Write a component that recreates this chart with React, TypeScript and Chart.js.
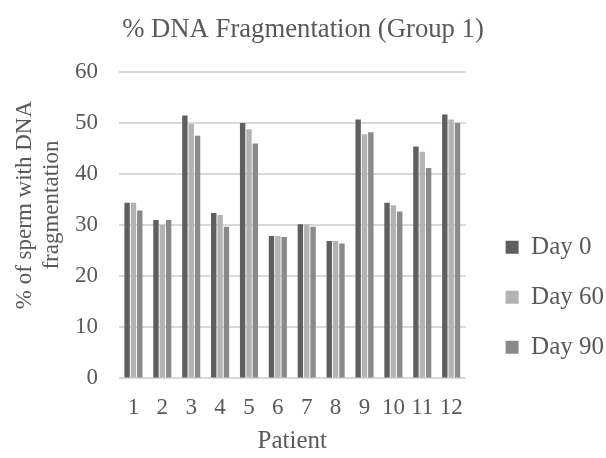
import React, { useEffect, useRef } from "react";
import { Chart, registerables } from "chart.js";

Chart.register(...registerables);

const patients = ["1", "2", "3", "4", "5", "6", "7", "8", "9", "10", "11", "12"];
const day0 = [34.4, 31.0, 51.5, 32.4, 50.0, 27.9, 30.2, 26.9, 50.7, 34.4, 45.4, 51.7];
const day60 = [34.4, 30.1, 49.8, 32.0, 48.8, 27.9, 30.2, 26.9, 47.8, 33.9, 44.4, 50.7];
const day90 = [32.9, 31.0, 47.5, 29.7, 46.0, 27.7, 29.7, 26.4, 48.2, 32.7, 41.2, 50.0];
const seriesNames = ["Day 0", "Day 60", "Day 90"];
const yTicks = [0, 10, 20, 30, 40, 50, 60];
const yTitleLines = ["       % of sperm with DNA", "       fragmentation"];

const FONT = "'Liberation Serif', 'Times New Roman', serif";
const TEXT = "#595959";

export default function App() {
  const ref = useRef<HTMLCanvasElement | null>(null);
  useEffect(() => {
    document.body.style.margin = "0";
    const ctx = ref.current!;
    const colors = ["#5f5f5f", "#b3b3b3", "#8a8a8a"];
    const chart = new Chart(ctx, {
      type: "bar",
      data: {
        labels: patients,
        datasets: [day0, day60, day90].map((d, i) => ({
          label: seriesNames[i],
          data: d,
          backgroundColor: colors[i],
          borderWidth: 0,
          categoryPercentage: 0.66,
          barPercentage: 0.85,
        })),
      },
      options: {
        animation: false,
        responsive: false,
        devicePixelRatio: 1,
        layout: { padding: { left: -8, right: -8, top: 0, bottom: 2 } },
        plugins: {
          title: {
            display: true,
            text: "% DNA Fragmentation (Group 1)",
            color: TEXT,
            font: { family: FONT, size: 26.7, weight: "normal" },
            padding: { top: 14, bottom: 26 },
          },
          legend: {
            position: "right",
            maxWidth: 200,
            title: { display: true, text: " ", font: { size: 12 }, padding: { top: 124, bottom: 0 } },
            labels: {
              color: TEXT,
              font: { family: FONT, size: 25 },
              boxWidth: 13,
              boxHeight: 13,
              padding: 25,
            },
          },
          tooltip: { enabled: false },
        },
        scales: {
          x: {
            grid: { display: false, drawTicks: false },
            border: { display: false },
            ticks: { color: TEXT, font: { family: FONT, size: 23 }, padding: 16, maxRotation: 0, autoSkip: false },
            title: {
              display: true,
              text: "Patient",
              color: TEXT,
              font: { family: FONT, size: 25 },
              padding: { top: -12, bottom: 0 },
            },
          },
          y: {
            min: 0,
            max: 60,
            afterBuildTicks: (axis: any) => {
              axis.ticks = yTicks.map((v) => ({ value: v }));
            },
            afterFit: (s: any) => {
              s.width = 127;
            },
            grid: { color: "#d9d9d9", lineWidth: 2, drawTicks: false },
            border: { display: false },
            ticks: { color: TEXT, font: { family: FONT, size: 23 }, padding: 21 },
            title: {
              display: true,
              text: yTitleLines,
              color: TEXT,
              font: { family: FONT, size: 23, lineHeight: 1.2 },
              padding: { top: 19, bottom: -12 },
            },
          },
          spacer: {
            type: "linear",
            position: "right",
            display: true,
            grid: { display: false, drawTicks: false },
            border: { display: false },
            ticks: { display: false },
            afterFit: (s: any) => {
              s.width = 15;
            },
          },
        },
      },
    });
    return () => chart.destroy();
  }, []);
  return <canvas ref={ref} width={606} height={458} style={{ display: "block" }} />;
}
